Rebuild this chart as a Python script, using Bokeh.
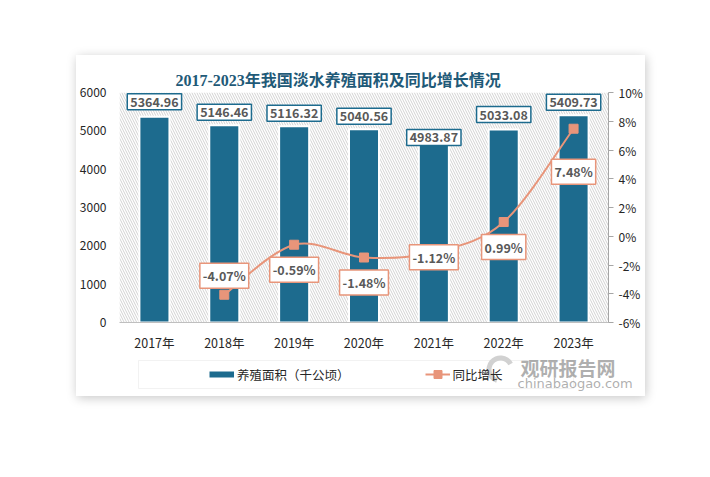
import numpy as np
from bokeh.plotting import figure
from bokeh.layouts import column
from bokeh.models import (Range1d, LinearAxis, FixedTicker, Legend, LegendItem,
                          BoxAnnotation, Label)
from bokeh.embed import file_html
from bokeh.resources import INLINE

# ---------------- data ----------------
years = ["2017年", "2018年", "2019年", "2020年", "2021年", "2022年", "2023年"]
area = [5364.96, 5146.46, 5116.32, 5040.56, 4983.87, 5033.08, 5409.73]
growth = [None, -4.07, -0.59, -1.48, -1.12, 0.99, 7.48]
left_ticks = [0, 1000, 2000, 3000, 4000, 5000, 6000]
right_ticks = [-6, -4, -2, 0, 2, 4, 6, 8, 10]
right_tick_labels = ["-6%", "-4%", "-2%", "0%", "2%", "4%", "6%", "8%", "10%"]
title_text = "2017-2023年我国淡水养殖面积及同比增长情况"
bar_name = "养殖面积（千公顷）"
line_name = "同比增长"

# ---------------- styles ----------------
TEAL = "#1D6B8E"
ORANGE = "#E8957A"
LABEL_GRAY = "#595959"
AXIS_TXT = "#262626"
CJK = "Noto Sans CJK SC"
CARD_W = 567
bar_label_offsets = [15, 13, 13, 13, -6, 15, 13]      # px above bar top
growth_label_offsets = [19, -25, -25, -5, -25, -43]  # px relative to marker

p = figure(frame_width=489, frame_height=230,
           x_range=Range1d(-0.5, 6.5), y_range=Range1d(0, 6000),
           output_backend="svg", toolbar_location=None,
           min_border_left=41, min_border_right=37,
           min_border_top=37, min_border_bottom=28)
p.frame_align = False
p.background_fill_color = "white"
p.border_fill_color = "white"
p.outline_line_color = None
p.xgrid.visible = False
p.ygrid.visible = False

# title
p.title.text = title_text
p.title.align = "left"
p.title.offset = 56
p.title.standoff = 7
p.title.text_font = "Liberation Serif, " + CJK
p.title.text_font_size = "16px"
p.title.text_font_style = "bold"
p.title.text_color = "#1F5A78"

# hatched plot area
p.add_layout(BoxAnnotation(left=-0.5, right=6.5, bottom=0, top=6000,
                           fill_color="white", fill_alpha=1.0, line_alpha=0,
                           hatch_pattern="left_diagonal_line", hatch_color="#d2d2d2",
                           hatch_scale=5, hatch_weight=1, level="underlay"))

# axes
xs = list(range(len(years)))
xa = p.xaxis[0]
xa.ticker = FixedTicker(ticks=xs)
xa.major_label_overrides = {i: y for i, y in zip(xs, years)}
xa.axis_line_color = "#bfbfbf"
xa.major_tick_line_color = None
xa.major_tick_out = 0
xa.minor_tick_line_color = None
xa.axis_label_standoff = 0
xa.major_label_standoff = 10
xa.major_label_text_font = CJK
xa.major_label_text_font_size = "12.5px"
xa.major_label_text_color = AXIS_TXT

ya = p.yaxis[0]
ya.ticker = FixedTicker(ticks=left_ticks)
ya.axis_line_color = None
ya.major_tick_line_color = None
ya.major_tick_out = 0
ya.minor_tick_line_color = None
ya.axis_label_standoff = 0
ya.major_label_standoff = 13
ya.major_label_text_font = CJK
ya.major_label_text_font_size = "12px"
ya.major_label_text_color = AXIS_TXT

p.extra_y_ranges = {"pct": Range1d(-6, 10)}
ra = LinearAxis(y_range_name="pct", ticker=FixedTicker(ticks=right_ticks),
                major_label_overrides={t: l for t, l in zip(right_ticks, right_tick_labels)})
ra.axis_line_color = "#a6a6a6"
ra.major_tick_line_color = "#a6a6a6"
ra.major_tick_out = 5
ra.major_tick_in = 0
ra.minor_tick_line_color = None
ra.axis_label_standoff = 0
ra.major_label_standoff = 5
ra.major_label_text_font = CJK
ra.major_label_text_font_size = "12px"
ra.major_label_text_color = AXIS_TXT
p.add_layout(ra, "right")

# bars
p.vbar(x=xs, top=area, width=0.43, fill_color=TEAL, line_color="white", line_width=2)

# smooth growth line (Catmull-Rom -> cubic Bezier)
gx = [i for i, g in enumerate(growth) if g is not None]
gy = [g for g in growth if g is not None]
n = len(gx)
x0, y0, x1, y1, cx0, cy0, cx1, cy1 = [], [], [], [], [], [], [], []
for i in range(n - 1):
    pxm, pym = (gx[i - 1], gy[i - 1]) if i > 0 else (gx[i], gy[i])
    pxp, pyp = (gx[i + 2], gy[i + 2]) if i + 2 < n else (gx[i + 1], gy[i + 1])
    x0.append(gx[i]); y0.append(gy[i]); x1.append(gx[i + 1]); y1.append(gy[i + 1])
    cx0.append(gx[i] + (gx[i + 1] - pxm) / 6); cy0.append(gy[i] + (gy[i + 1] - pym) / 6)
    cx1.append(gx[i + 1] - (pxp - gx[i]) / 6); cy1.append(gy[i + 1] - (pyp - gy[i]) / 6)
p.bezier(x0=x0, y0=y0, x1=x1, y1=y1, cx0=cx0, cy0=cy0, cx1=cx1, cy1=cy1,
         line_color=ORANGE, line_width=2, y_range_name="pct")
p.scatter(gx, gy, marker="square", size=9, fill_color=ORANGE,
          line_color=ORANGE, y_range_name="pct")

# data labels
for x, v, off in zip(xs, area, bar_label_offsets):
    p.add_layout(Label(x=x, y=v, y_offset=off, text=f"{v:.2f}",
                       text_align="center", text_baseline="middle",
                       text_font=CJK, text_font_size="12.5px", text_font_style="bold",
                       text_color=LABEL_GRAY, background_fill_color="white",
                       border_line_color=TEAL, border_line_width=1.5, padding=3))
for x, g, off in zip(gx, gy, growth_label_offsets):
    p.add_layout(Label(x=x, y=g, y_offset=off, y_range_name="pct", text=f"{g:.2f}%",
                       text_align="center", text_baseline="middle",
                       text_font=CJK, text_font_size="12.5px", text_font_style="bold",
                       text_color=LABEL_GRAY, background_fill_color="white",
                       border_line_color=ORANGE, border_line_width=1.5, padding=3))

# ---------------- legend strip (bottom of the card) ----------------
LEG_H = 42
q = figure(width=CARD_W, height=LEG_H, x_range=Range1d(0, CARD_W), y_range=Range1d(0, LEG_H),
           x_axis_type=None, y_axis_type=None, output_backend="svg", toolbar_location=None,
           min_border=0)
q.frame_align = False
q.outline_line_color = None
q.xgrid.visible = False
q.ygrid.visible = False
q.background_fill_color = "white"
q.border_fill_color = "white"

nan = np.array([np.nan])
sw_bar = q.line(x=nan, y=nan, line_color=TEAL, line_width=6)
sw_line = q.line(x=nan, y=nan, line_color=ORANGE, line_width=2)
sw_mark = q.scatter(x=nan, y=nan, marker="square", fill_color=ORANGE, line_color=ORANGE)
legend = Legend(items=[LegendItem(label=bar_name, renderers=[sw_bar]),
                       LegendItem(label=line_name, renderers=[sw_line, sw_mark])],
                location=(129, 8), orientation="horizontal",
                border_line_alpha=0, background_fill_alpha=0,
                padding=4, spacing=75, label_standoff=3, margin=0,
                glyph_width=25, glyph_height=20, label_height=20,
                label_text_font=CJK, label_text_font_size="12.5px",
                label_text_color=AXIS_TXT)
q.add_layout(legend, "center")
q.add_layout(BoxAnnotation(left=62, right=497, bottom=8, top=36,
                           fill_alpha=0, line_color="#d4d4d4", line_width=1))

# watermark (logo swoosh + site name)
q.annular_wedge(x=[424], y=[27], inner_radius=9, outer_radius=14,
                start_angle=0.5, end_angle=4.4, fill_color="#9a9a9a",
                fill_alpha=0.45, line_alpha=0)
q.add_layout(Label(x=444, y=29, text="观研报告网", text_baseline="middle", text_font=CJK,
                   text_font_size="19px", text_font_style="bold",
                   text_color="#8c8c8c", text_alpha=0.7))
q.add_layout(Label(x=441, y=13, text="chinabaogao.com", text_baseline="middle",
                   text_font="DejaVu Sans", text_font_size="13px",
                   text_color="#8c8c8c", text_alpha=0.7))

card = column(p, q, spacing=0)
card.margin = (55, 0, 0, 76)
card.styles = {"box-shadow": "1px 2px 10px rgba(0,0,0,0.22)", "background": "white"}

open("out.html", "w").write(file_html(card, INLINE))
